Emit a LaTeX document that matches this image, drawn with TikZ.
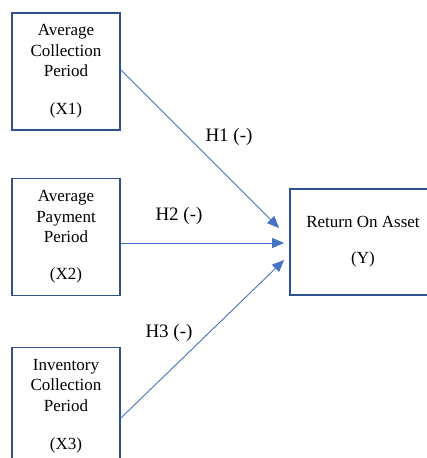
\documentclass[tikz,border=0pt]{standalone}
\usepackage{fontspec}
\setmainfont{Liberation Serif}
\usetikzlibrary{arrows.meta,calc}
\definecolor{boxblue}{HTML}{2F528F}
\definecolor{linkblue}{HTML}{4472C4}

\begin{document}
\begin{tikzpicture}[x=1pt, y=-1pt,
    var/.style={draw=boxblue, line width=1.8pt, minimum width=108pt, minimum height=117pt,
        inner sep=0pt, align=center, font=\fontsize{17}{20.5}\selectfont},
    link/.style={draw=linkblue, line width=0.9pt, -{Triangle[length=12pt,width=10pt]}},
    hyp/.style={font=\fontsize{19}{22}\selectfont}]
    \useasboundingbox (0,0) rectangle (427,458);
    \clip (0,0) rectangle (427,458);
    % independent variables on the left, y is cut by the page edge
    \node[var] (x1) at (66,71.5) {Average\\Collection\\Period\\[17.5pt](X1)};
    \node[var] (x2) at (66,237) {Average\\Payment\\Period\\[16.5pt](X2)};
    \node[var] (x3) at (66,406) {Inventory\\Collection\\Period\\[17.5pt](X3)};
    \node[var, minimum width=146pt, minimum height=106pt] (y) at (363,242) {Return On Asset\\[15.5pt](Y)};
    % arrow tips stop short of the box
    \coordinate (e1) at ($(y.west)+(-10,-14)$);
    \coordinate (e2) at ($(y.west)+(-5,1)$);
    \coordinate (e3) at ($(y.west)+(-5,18)$);
    \draw[link] ([yshift=1.5pt]x1.east) -- (e1);
    \draw[link] ([yshift=-6pt]x2.east) -- (e2);
    \draw[link] ([yshift=-12pt]x3.east) -- (e3);
    \node[hyp] (h1) at (229,137) {H1 (-)};
    \node[hyp] (h2) at (179,216) {H2 (-)};
    \node[hyp] (h3) at (169,333) {H3 (-)};
\end{tikzpicture}
\end{document}
